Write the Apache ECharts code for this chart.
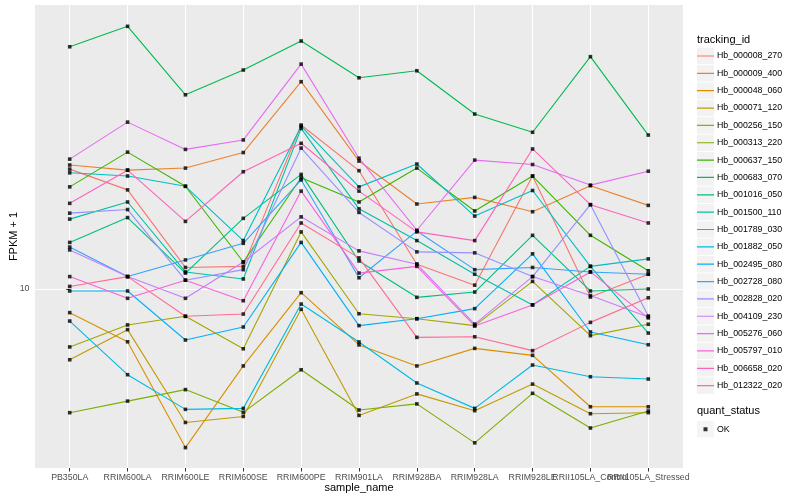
<!DOCTYPE html>
<html><head><meta charset="utf-8">
<script src="https://cdn.jsdelivr.net/npm/echarts@6/dist/echarts.min.js"></script>
<style>html,body{margin:0;padding:0;background:#fff}#c{width:800px;height:500px}</style>
</head><body><div id="c"></div>
<script>
const categories = ['PB350LA','RRIM600LA','RRIM600LE','RRIM600SE','RRIM600PE','RRIM901LA','RRIM928BA','RRIM928LA','RRIM928LE','RRII105LA_Control','RRII105LA_Stressed'];
const trackingIds = ['Hb_000008_270','Hb_000009_400','Hb_000048_060','Hb_000071_120','Hb_000256_150','Hb_000313_220','Hb_000637_150','Hb_000683_070','Hb_001016_050','Hb_001500_110','Hb_001789_030','Hb_001882_050','Hb_002495_080','Hb_002728_080','Hb_002828_020','Hb_004109_230','Hb_005276_060','Hb_005797_010','Hb_006658_020','Hb_012322_020'];
const colors = ['#F8766D','#EA8331','#D89000','#C09B00','#A3A500','#7CAE00','#39B600','#00BB4E','#00BF7D','#00C1A3','#00BFC4','#00BAE0','#00B0F6','#35A2FF','#9590FF','#C77CFF','#E76BF3','#FA62DB','#FF62BC','#FF6C91'];

const hb_000008_270 = [25.1, 21.4, 11.8, 11.9, 35.2, 24.8, 12.1, 10.3, 23.8, 9.40, 11.2];
const hb_000009_400 = [25.9, 24.9, 25.3, 28.5, 49.1, 26.7, 19.2, 20.2, 18.1, 22.1, 19.0];
const hb_000048_060 = [8.34, 6.67, 2.96, 5.54, 9.72, 6.51, 5.54, 6.34, 6.01, 4.05, 4.05];
const hb_000071_120 = [5.81, 7.32, 3.59, 3.76, 8.56, 3.79, 4.47, 3.93, 4.82, 3.84, 3.87];
const hb_000256_150 = [6.41, 7.59, 8.11, 6.32, 15.5, 8.27, 7.96, 7.55, 10.6, 6.99, 7.63];
const hb_000313_220 = [3.87, 4.23, 4.62, 3.88, 5.38, 3.95, 4.14, 3.07, 4.49, 3.44, 3.92];
const hb_000637_150 = [21.9, 28.6, 22.0, 12.3, 23.5, 19.5, 25.3, 18.2, 23.8, 15.1, 11.5];
const hb_000683_070 = [64.2, 75.1, 44.4, 53.7, 67.1, 50.6, 53.4, 38.3, 33.3, 59.5, 32.6];
const hb_001016_050 = [14.3, 17.3, 11.3, 17.2, 24.1, 12.4, 9.38, 9.77, 15.1, 9.85, 10.0];
const hb_001500_110 = [17.1, 19.5, 11.4, 10.8, 34.3, 18.5, 14.5, 11.2, 8.85, 11.9, 7.13];
const hb_001789_030 = [24.4, 23.8, 22.0, 14.5, 34.9, 21.9, 26.1, 17.5, 21.3, 11.9, 12.6];
const hb_001882_050 = [7.82, 5.18, 3.97, 4.00, 8.91, 6.66, 4.86, 4.00, 5.58, 5.10, 5.01];
const hb_002495_080 = [9.85, 9.85, 6.76, 7.47, 14.3, 7.55, 7.96, 8.60, 13.1, 7.19, 6.52];
const hb_002728_080 = [13.8, 11.0, 12.5, 14.2, 23.1, 10.9, 15.6, 11.6, 11.8, 11.4, 11.2];
const hb_002828_020 = [17.9, 18.4, 10.7, 11.6, 29.5, 18.0, 13.3, 13.2, 11.0, 19.1, 8.13];
const hb_004109_230 = [13.5, 11.0, 9.31, 12.3, 17.4, 13.4, 12.1, 7.64, 11.0, 9.51, 8.07];
const hb_005276_060 = [27.1, 36.0, 29.2, 31.4, 56.2, 27.3, 15.7, 26.9, 26.0, 22.2, 24.7];
const hb_005797_010 = [11.0, 9.31, 10.7, 9.14, 21.2, 11.3, 11.9, 7.53, 8.85, 11.4, 8.01];
const hb_006658_020 = [19.3, 24.9, 16.8, 24.6, 30.6, 21.2, 15.5, 14.5, 29.3, 19.1, 16.6];
const hb_012322_020 = [10.2, 11.0, 8.11, 8.25, 16.6, 12.7, 6.90, 6.93, 6.23, 7.74, 9.35];

const seriesValues = [hb_000008_270, hb_000009_400, hb_000048_060, hb_000071_120, hb_000256_150, hb_000313_220, hb_000637_150, hb_000683_070, hb_001016_050, hb_001500_110, hb_001789_030, hb_001882_050, hb_002495_080, hb_002728_080, hb_002828_020, hb_004109_230, hb_005276_060, hb_005797_010, hb_006658_020, hb_012322_020];
const yTickValues = [10];
const yTickLabels = ['10'];
const statusName = 'OK';

const font = 'Liberation Sans, Arial, sans-serif';
const chart = echarts.init(document.getElementById('c'));

const xMin = -0.6, xMax = categories.length - 1 + 0.6;

const lineSeries = trackingIds.map((id, k) => ({
  name: id, type: 'line', color: colors[k],
  data: seriesValues[k].map((v, i) => [i, v]),
  symbol: 'none', showSymbol: false, silent: true, z: 2,
  lineStyle: { color: colors[k], width: 1.1 }
}));
const pointData = [];
seriesValues.forEach(vals => vals.forEach((v, i) => pointData.push([i, v])));
const pointSeries = {
  name: statusName, type: 'scatter', data: pointData, symbol: 'rect', symbolSize: 3.6,
  itemStyle: { color: '#000' }, silent: true, z: 3
};
const catIdx = categories.map((c, i) => i);
const labelIdx = [xMin].concat(catIdx, [xMax]);

const lineKeyIcon = 'path://M0,0 L0.001,0 Z M0,7.6 L17,7.6 L17,8.8 L0,8.8 Z M17,16.4 L16.999,16.4 Z';
const pointKeyIcon = 'path://M0,0 L0.001,0 Z M6.5,6.2 L10.5,6.2 L10.5,10.2 L6.5,10.2 Z M17,16.4 L16.999,16.4 Z';

const legendBase = {
  orient: 'vertical', left: 697, padding: 0, itemWidth: 17, itemHeight: 16.4, itemGap: 0.95,
  selectedMode: false, backgroundColor: 'transparent', borderWidth: 0,
  textStyle: { fontSize: 8.8, fontFamily: font, color: '#000', padding: [0, 0, 0, -2] }
};
const hiddenText = { fontSize: 8.8, fontFamily: font, color: 'rgba(0,0,0,0)' };

chart.setOption({
  animation: false,
  textStyle: { fontFamily: font },
  title: [
    { text: 'tracking_id', left: 697, top: 34, padding: 0, textStyle: { fontSize: 11, fontWeight: 'normal', color: '#000', fontFamily: font } },
    { text: 'quant_status', left: 697, top: 405.5, padding: 0, textStyle: { fontSize: 11, fontWeight: 'normal', color: '#000', fontFamily: font } }
  ],
  grid: { left: 35, right: 117, top: 5, bottom: 32, show: true, backgroundColor: '#EBEBEB', borderWidth: 0,
    containLabel: false, outerBoundsMode: 'none' },
  legend: [
    Object.assign({}, legendBase, { top: 47.8, z: 2, data: trackingIds, icon: 'rect',
      itemStyle: { color: '#F2F2F2', borderWidth: 0 }, textStyle: hiddenText }),
    Object.assign({}, legendBase, { top: 47.8, z: 3, data: trackingIds, icon: lineKeyIcon, itemStyle: { borderWidth: 0 } }),
    Object.assign({}, legendBase, { top: 421, z: 2, data: [statusName], icon: 'rect',
      itemStyle: { color: '#F2F2F2', borderWidth: 0 }, textStyle: hiddenText }),
    Object.assign({}, legendBase, { top: 421, z: 3, data: [statusName], icon: pointKeyIcon,
      itemStyle: { color: '#000', borderWidth: 0 } })
  ],
  xAxis: {
    type: 'value', min: xMin, max: xMax, splitNumber: 11,
    axisLine: { show: false },
    axisTick: { show: true, length: 3.5, lineStyle: { color: '#333', width: 1 }, customValues: catIdx },
    axisLabel: { customValues: labelIdx, color: '#4D4D4D', fontSize: 8.8, margin: 5.5, hideOverlap: false,
      showMinLabel: false, showMaxLabel: false,
      formatter: v => Number.isInteger(v) && categories[v] !== undefined ? categories[v] : '' },
    splitLine: { show: true, lineStyle: { color: '#FFFFFF', width: 1.1 } },
    name: 'sample_name', nameLocation: 'middle', nameGap: 14, nameMoveOverlap: false,
    nameTextStyle: { color: '#000', fontSize: 11 }
  },
  yAxis: {
    type: 'log', logBase: 10, min: 2.531, max: 88.46,
    axisLine: { show: false },
    axisTick: { show: true, length: 3.5, lineStyle: { color: '#333', width: 1 }, customValues: yTickValues },
    axisLabel: { customValues: yTickValues, color: '#4D4D4D', fontSize: 8.8, margin: 5.5,
      formatter: v => { const k = yTickValues.findIndex(t => Math.abs(t - v) < 1e-6); return k >= 0 ? yTickLabels[k] : ''; } },
    splitLine: { show: true, lineStyle: { color: '#FFFFFF', width: 1.1 } },
    minorSplitLine: { show: false },
    name: 'FPKM + 1', nameLocation: 'middle', nameGap: 16, nameRotate: 90, nameMoveOverlap: false,
    nameTextStyle: { color: '#000', fontSize: 11 }
  },
  series: lineSeries.concat([pointSeries])
});
</script></body></html>
